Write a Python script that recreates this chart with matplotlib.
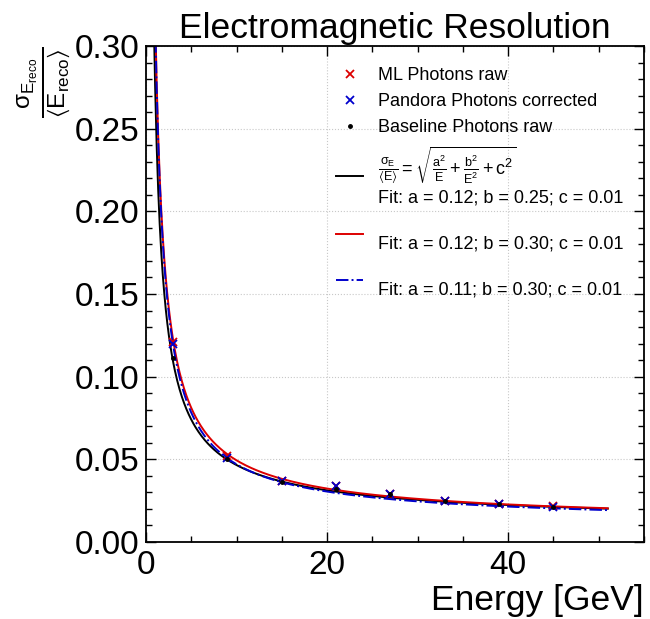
import numpy as np
import matplotlib
matplotlib.use("Agg")
import matplotlib.pyplot as plt
from matplotlib.ticker import MultipleLocator

plt.rcParams['font.family'] = ['Liberation Sans', 'DejaVu Sans']
plt.rcParams['mathtext.fontset'] = 'custom'
plt.rcParams['mathtext.rm'] = 'Liberation Sans'
plt.rcParams['mathtext.it'] = 'Liberation Sans'
plt.rcParams['mathtext.bf'] = 'Liberation Sans:bold'
plt.rcParams['mathtext.default'] = 'regular'

# ---- data ----
energy = [3, 9, 15, 21, 27, 33, 39, 45]
ml_raw = [0.121, 0.052, 0.037, 0.034, 0.029, 0.025, 0.023, 0.022]
pandora_corr = [0.120, 0.051, 0.037, 0.034, 0.029, 0.025, 0.023, 0.021]
baseline_raw = [0.111, 0.050, 0.036, 0.032, 0.029, 0.025, 0.023, 0.021]

fit_baseline = [0.12, 0.25, 0.01]
fit_ml = [0.12, 0.30, 0.01]
fit_pandora = [0.11, 0.30, 0.01]
fit_range = [0.5, 51]

def resolution(E, p):
    a, b, c = p
    return np.sqrt(a**2 / E + b**2 / E**2 + c**2)

E = np.linspace(fit_range[0], fit_range[1], 600)

fig = plt.figure(figsize=(6.5, 6.19), dpi=100)
ax = fig.add_axes([146/650, 1 - 542/619, (644-146)/650, (542-46)/619])

red = '#dd0000'
blue = '#0000cc'

ax.plot(energy, ml_raw, 'x', color=red, ms=6, mew=1.3, label='ML Photons raw', zorder=5)
ax.plot(energy, pandora_corr, 'x', color=blue, ms=6, mew=1.3, label='Pandora Photons corrected', zorder=5)
ax.plot(energy, baseline_raw, '.', color='black', ms=5, label='Baseline Photons raw', zorder=5)

formula = r'$\frac{\sigma_E}{\langle E\rangle} = \sqrt{\frac{a^2}{E} + \frac{b^2}{E^2} + c^2}$'
ax.plot(E, resolution(E, fit_baseline), '-', color='black', lw=1.4,
        label=formula + '\nFit: a = %.2f; b = %.2f; c = %.2f' % tuple(fit_baseline))
ax.plot(E, resolution(E, fit_ml), '-', color=red, lw=1.4,
        label='\nFit: a = %.2f; b = %.2f; c = %.2f' % tuple(fit_ml))
ax.plot(E, resolution(E, fit_pandora), '-.', color=blue, lw=1.4,
        label='\nFit: a = %.2f; b = %.2f; c = %.2f' % tuple(fit_pandora))

ax.set_xlim(0, 55)
ax.set_ylim(0, 0.30)
ax.xaxis.set_major_locator(MultipleLocator(20))
ax.xaxis.set_minor_locator(MultipleLocator(5))
ax.yaxis.set_major_locator(MultipleLocator(0.05))
ax.yaxis.set_minor_locator(MultipleLocator(0.01))
ax.yaxis.set_major_formatter(matplotlib.ticker.FormatStrFormatter('%.2f'))

ax.tick_params(which='both', direction='in', top=True, right=True, labelsize=24)
ax.tick_params(which='major', length=7, width=1)
ax.tick_params(which='minor', length=4, width=1)
ax.tick_params(axis='x', pad=6)
ax.tick_params(axis='y', pad=5)
for s in ax.spines.values():
    s.set_linewidth(1.3)

ax.grid(True, which='major', linestyle=':', color='#c8c8c8', lw=0.8)

ax.set_title('Electromagnetic Resolution', fontsize=25.5, pad=6)
ax.set_xlabel('Energy [GeV]', fontsize=25.5, ha='right', x=1.0, labelpad=2)
ax.set_ylabel(r'$\frac{\sigma_{E_{reco}}}{\langle E_{reco}\rangle}$', fontsize=25, ha='right', y=1.0,
              labelpad=1)

leg = ax.legend(loc='upper left', bbox_to_anchor=(336/650, 1 - 67/619), bbox_transform=fig.transFigure,
                frameon=False, fontsize=13, handlelength=1.5, handletextpad=0.85,
                labelspacing=0.5, borderpad=0, borderaxespad=0)

fig.savefig('out.png', dpi=100)
